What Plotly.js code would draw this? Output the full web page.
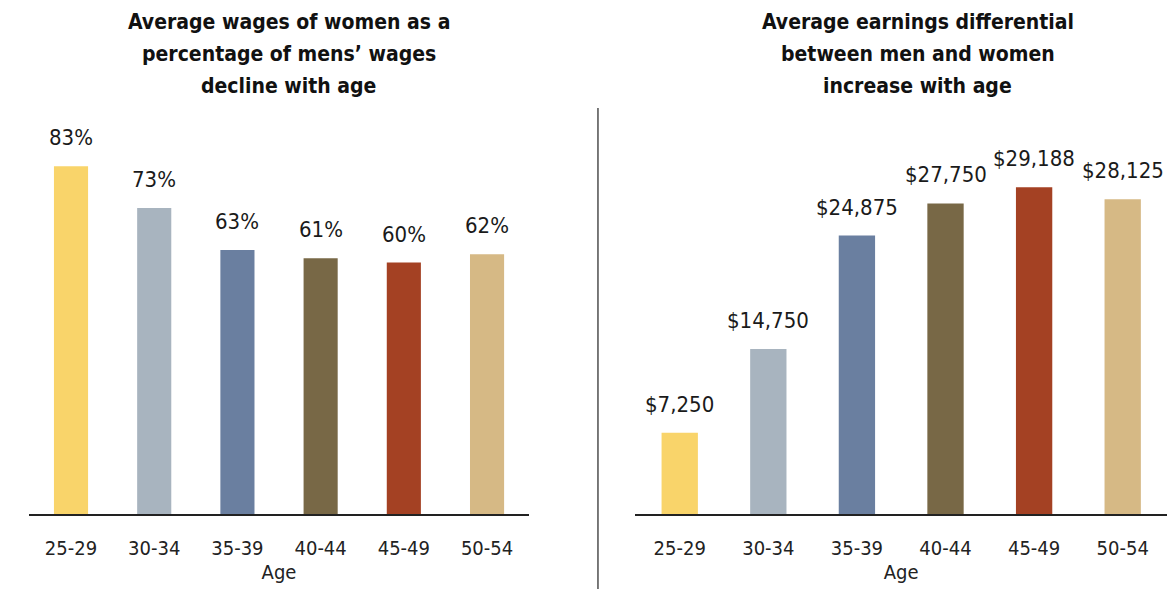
<!DOCTYPE html>
<html>
<head>
<meta charset="utf-8">
<script src="https://cdn.plot.ly/plotly-3.0.1.min.js"></script>
<style>html,body{margin:0;padding:0;background:#fff;}#chart{width:1167px;height:589px;}</style>
</head>
<body>
<div id="chart"></div>
<script>
const ageGroups = ["25-29", "30-34", "35-39", "40-44", "45-49", "50-54"];
const wagePct = [83, 73, 63, 61, 60, 62];
const wagePctLabels = ["83%", "73%", "63%", "61%", "60%", "62%"];
const earningsGap = [7250, 14750, 24875, 27750, 29188, 28125];
const earningsGapLabels = ["$7,250", "$14,750", "$24,875", "$27,750", "$29,188", "$28,125"];
const barColors = ["#F9D46A", "#A8B4BF", "#6A7FA0", "#786846", "#A44123", "#D6B985"];
const leftTitleLines = ["Average wages of women as a", "percentage of mens’ wages", "decline with age"];
const rightTitleLines = ["Average earnings differential", "between men and women", "increase with age"];

const FONT = '"DejaVu Sans Condensed", "Liberation Sans Narrow", "Arial Narrow", sans-serif';

const traces = [
  {type: 'bar', x: ageGroups, y: wagePct, marker: {color: barColors}, xaxis: 'x', yaxis: 'y', hoverinfo: 'none'},
  {type: 'bar', x: ageGroups, y: earningsGap, marker: {color: barColors}, xaxis: 'x2', yaxis: 'y2', hoverinfo: 'none'}
];

const annotations = [];
ageGroups.forEach((g, i) => {
  annotations.push({x: g, y: wagePct[i], xref: 'x', yref: 'y', text: wagePctLabels[i], showarrow: false,
    yanchor: 'bottom', yshift: 14, font: {family: FONT, size: 22, color: '#1a1a1a'}});
  annotations.push({x: g, y: earningsGap[i], xref: 'x2', yref: 'y2', text: earningsGapLabels[i], showarrow: false,
    yanchor: 'bottom', yshift: 14, font: {family: FONT, size: 22, color: '#1a1a1a'}});
});
const titleY = [1.2178, 1.1386, 1.0594];
leftTitleLines.forEach((t, i) => {
  annotations.push({x: 0.2476, y: titleY[i], xref: 'paper', yref: 'paper', text: '<b>' + t + '</b>', showarrow: false,
    yanchor: 'middle', xanchor: 'center', font: {family: FONT, size: 21, color: '#111'}});
});
rightTitleLines.forEach((t, i) => {
  annotations.push({x: 0.7866, y: titleY[i], xref: 'paper', yref: 'paper', text: '<b>' + t + '</b>', showarrow: false,
    yanchor: 'middle', xanchor: 'center', font: {family: FONT, size: 21, color: '#111'}});
});

const xCommon = {
  showgrid: false, zeroline: false, showline: true, linecolor: '#222', linewidth: 1.5,
  ticks: '', ticklabelstandoff: 15, tickfont: {family: FONT, size: 20, color: '#222'},
  title: {text: 'Age', font: {family: FONT, size: 20, color: '#222'}, standoff: 6},
  automargin: false, fixedrange: true
};
const yCommon = {showgrid: false, zeroline: false, showline: false, showticklabels: false, ticks: '', fixedrange: true};

const layout = {
  width: 1167, height: 589,
  margin: {l: 0, r: 0, t: 110, b: 75},
  paper_bgcolor: '#fff', plot_bgcolor: '#fff',
  showlegend: false, bargap: 0.59,
  xaxis: Object.assign({}, xCommon, {domain: [0.0252, 0.4530], anchor: 'y'}),
  xaxis2: Object.assign({}, xCommon, {domain: [0.5445, 1.0], anchor: 'y2'}),
  yaxis: Object.assign({}, yCommon, {range: [0, 96.4], anchor: 'x'}),
  yaxis2: Object.assign({}, yCommon, {range: [0, 36100], anchor: 'x2'}),
  annotations: annotations,
  shapes: [{type: 'line', xref: 'paper', yref: 'paper', x0: 0.5124, x1: 0.5124, y0: -0.19, y1: 1.005,
    line: {color: '#222', width: 1.2}}]
};

Plotly.newPlot('chart', traces, layout, {displayModeBar: false, staticPlot: true});
</script>
</body>
</html>
